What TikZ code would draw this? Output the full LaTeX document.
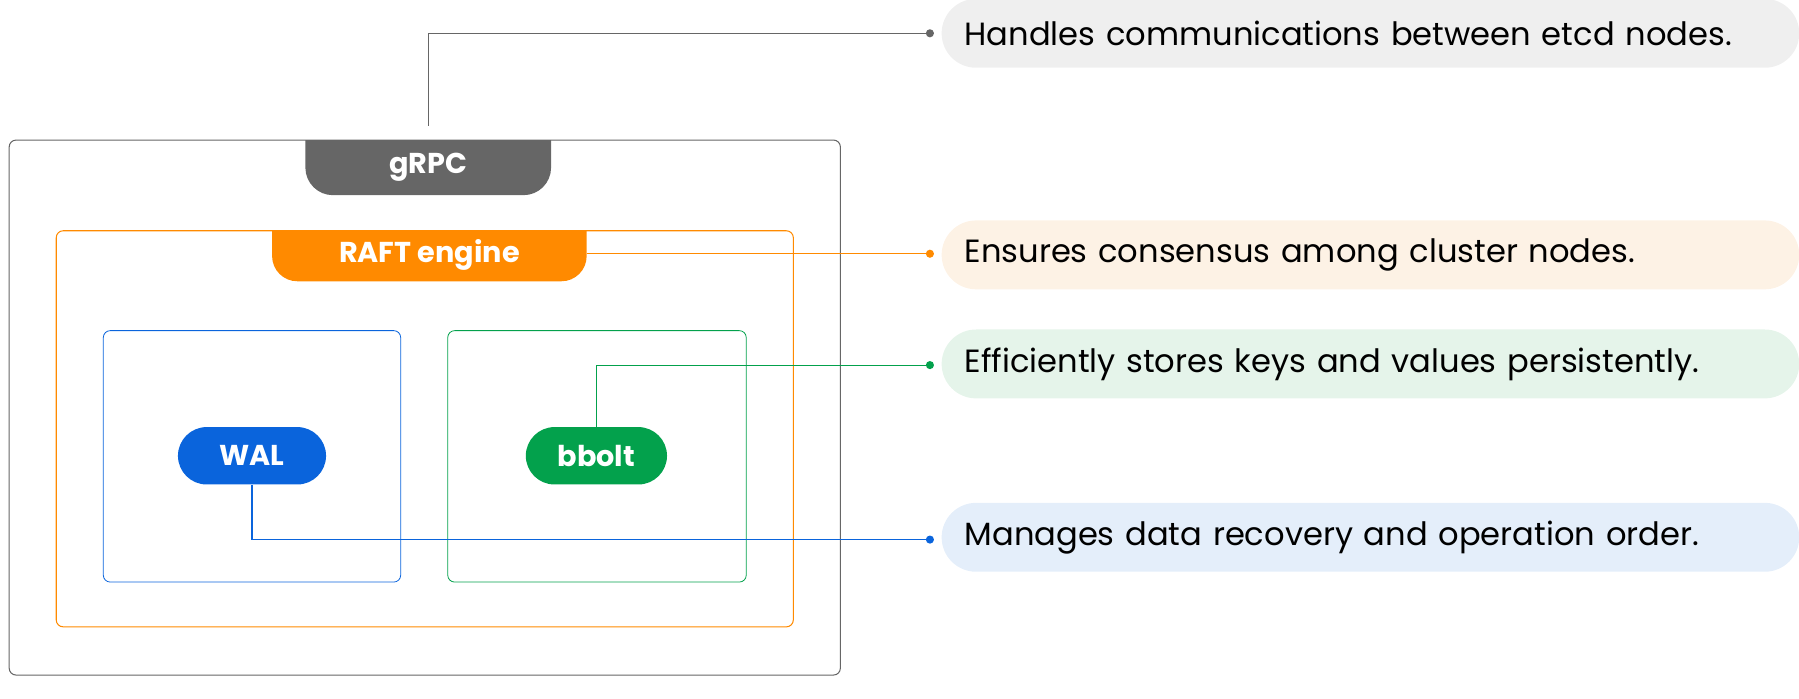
\documentclass[tikz,border=0pt]{standalone}
\usepackage{fontspec}
\setmainfont{Poppins}
\usetikzlibrary{positioning}
\definecolor{grpcgray}{HTML}{666666}
\definecolor{raftorange}{HTML}{FF8A00}
\definecolor{walblue}{HTML}{0A64DC}
\definecolor{boltgreen}{HTML}{03A14C}
\definecolor{bggray}{HTML}{EFEFEF}
\definecolor{bgorange}{HTML}{FDF2E5}
\definecolor{bggreen}{HTML}{E5F4EA}
\definecolor{bgblue}{HTML}{E4EEFA}
\tikzset{box/.style={rounded corners=6pt,line width=0.9pt},
  tab label/.style={text=white,font=\fontsize{25}{30}\selectfont\bfseries,inner sep=0},
  pill/.style={rounded corners=25pt,minimum height=50pt,tab label},
  note/.style={rounded corners=30pt,minimum height=60pt,minimum width=747pt,anchor=west,
    text width=707pt,font=\fontsize{28}{32}\selectfont,text=black},
  lead/.style={line width=0.9pt},
  dot/.style={circle,fill,inner sep=2.5pt}}
\begin{document}
\begin{tikzpicture}[x=1pt,y=-1pt]
  \useasboundingbox (0,0) rectangle (1567,608);

  %outer box and gRPC
  \draw[box,grpcgray] (8,122) rectangle (732,588);
  \fill[grpcgray] (266,122) [rounded corners=24pt] -- (266,170) -- (480,170) [sharp corners] -- (480,122) -- cycle;
  \node[tab label] (grpc) at (373,146) {gRPC};

  %RAFT engine
  \draw[box,raftorange] (49,201) rectangle (691,546);
  \fill[raftorange] (237,201) [rounded corners=22pt] -- (237,245) -- (511,245) [sharp corners] -- (511,201) -- cycle;
  \node[tab label] (raft) at (374,222) {RAFT engine};
  \coordinate (raftR) at (511,221);

  %WAL and bbolt
  \draw[box,walblue,line width=0.7pt] (90,288) rectangle (349,507);
  \draw[box,boltgreen,line width=0.7pt] (390,288) rectangle (650,507);
  \node[pill,fill=walblue,minimum width=129pt] (wal) at (219.5,397) {WAL};
  \node[pill,fill=boltgreen,minimum width=123pt] (bolt) at (519.5,397) {bbolt};

  %notes
  \node[note,fill=bggray] (n1) at (820,29) {Handles communications between etcd nodes.};
  \node[note,fill=bgorange] (n2) at (820,222) {Ensures consensus among cluster nodes.};
  \node[note,fill=bggreen] (n3) at (820,317) {Efficiently stores keys and values persistently.};
  \node[note,fill=bgblue] (n4) at (820,468) {Manages data recovery and operation order.};

  %leaders
  \node[dot,grpcgray] (d1) at (810,29) {};
  \node[dot,raftorange] (d2) at (810,221) {};
  \node[dot,boltgreen] (d3) at (810,318) {};
  \node[dot,walblue] (d4) at (810,470) {};
  \draw[lead,grpcgray] (grpc.north) ++(0,-24) |- (d1);
  \draw[lead,raftorange] (raftR) -- (d2);
  \draw[lead,boltgreen] (bolt.north) |- (d3);
  \draw[lead,walblue] (wal.south) |- (d4);
\end{tikzpicture}
\end{document}
